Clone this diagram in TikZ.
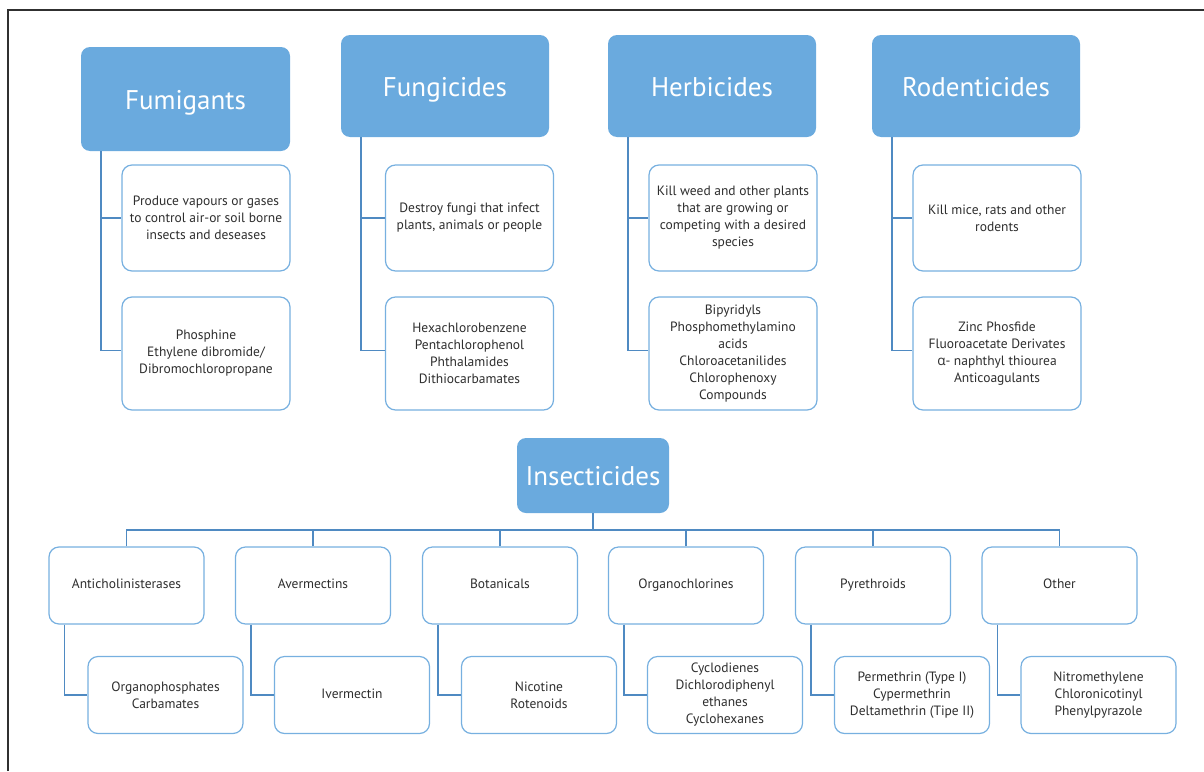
\documentclass[tikz,border=0pt]{standalone}
\usepackage{fontspec}
\usetikzlibrary{calc}
\setmainfont{PT Sans}
\newfontfamily\grk{Open Sans}
\definecolor{hdr}{HTML}{6AAADE}
\definecolor{bord}{HTML}{77B0E0}
\definecolor{conn}{HTML}{4F8AC2}
\definecolor{txt}{HTML}{2E2E2E}
\definecolor{frm}{HTML}{303030}
\begin{document}
\begin{tikzpicture}[x=1pt,y=-1pt,
  hbox/.style={draw=none,fill=hdr,rounded corners=9pt,text=white,
    font=\fontsize{27}{32}\selectfont,inner sep=0pt,align=center,
    text height=20pt,text depth=0pt},
  sbox/.style={draw=bord,line width=1.2pt,fill=white,rounded corners=10pt,
    text=txt,font=\fontsize{13.5}{17}\selectfont,inner sep=0pt,align=center,
    minimum width=168pt},
  ibox/.style={draw=bord,line width=1.2pt,fill=white,rounded corners=10pt,
    text=txt,font=\fontsize{13.5}{17}\selectfont,inner sep=0pt,align=center,
    minimum width=155pt,minimum height=77pt},
  cn/.style={draw=conn,line width=1.4pt}]
\useasboundingbox (0,0) rectangle (1204,771);
\draw[frm,line width=1.2pt] (8,771) -- (8,10) -- (1204,10);

% headers
\node[hbox,minimum width=209pt,minimum height=104pt] (fum) at (185.5,99) {Fumigants};
\node[hbox,minimum width=208pt,minimum height=102pt] (fun) at (445,86) {Fungicides};
\node[hbox,minimum width=208pt,minimum height=102pt] (her) at (712,86) {Herbicides};
\node[hbox,minimum width=208pt,minimum height=102pt] (rod) at (976,86) {Rodenticides};
\node[hbox,minimum width=152pt,minimum height=75pt] (ins) at (593,475.5) {Insecticides};

% sub boxes top
\node[sbox,minimum height=106pt] (fum1) at (206,218) {Produce vapours or gases\\to control air-or soil borne\\insects and deseases};
\node[sbox,minimum height=113pt] (fum2) at (206,353.5) {Phosphine\\Ethylene dibromide/\\Dibromochloropropane};
\node[sbox,minimum height=106pt] (fun1) at (469.5,218) {Destroy fungi that infect\\plants, animals or people};
\node[sbox,minimum height=113pt] (fun2) at (469.5,353.5) {Hexachlorobenzene\\Pentachlorophenol\\Phthalamides\\Dithiocarbamates};
\node[sbox,minimum height=106pt] (her1) at (733,218) {Kill weed and other plants\\that are growing or\\competing with a desired\\species};
\node[sbox,minimum height=113pt] (her2) at (733,353.5) {Bipyridyls\\Phosphomethylamino\\acids\\Chloroacetanilides\\Chlorophenoxy\\Compounds};
\node[sbox,minimum height=106pt] (rod1) at (997,218) {Kill mice, rats and other\\rodents};
\node[sbox,minimum height=113pt] (rod2) at (997,353.5) {Zinc Phosfide\\Fluoroacetate Derivates\\{\grk α}- naphthyl thiourea\\Anticoagulants};

\foreach \h in {fum,fun,her,rod}{
  \draw[cn] ($(\h.south west)+(20,0)$) |- (\h1.west);
  \draw[cn] ($(\h.south west)+(20,0)$) |- ($(\h2.west)+(0,-3)$);
}

% insecticides rows
\node[ibox] (a1) at (126.5,585.5) {\strut Anticholinisterases};
\node[ibox] (a2) at (313,585.5) {\strut Avermectins};
\node[ibox] (a3) at (500,585.5) {\strut Botanicals};
\node[ibox] (a4) at (686,585.5) {\strut Organochlorines};
\node[ibox] (a5) at (873,585.5) {\strut Pyrethroids};
\node[ibox] (a6) at (1059.5,585.5) {\strut Other};

\node[ibox] (b1) at (165.5,695) {Organophosphates\\Carbamates};
\node[ibox] (b2) at (352,695) {\strut Ivermectin};
\node[ibox] (b3) at (539,695) {Nicotine\\Rotenoids};
\node[ibox] (b4) at (725,695) {Cyclodienes\\Dichlorodiphenyl\\ethanes\\Cyclohexanes};
\node[ibox] (b5) at (912,695) {Permethrin (Type I)\\Cypermethrin\\Deltamethrin (Tipe II)};
\node[ibox] (b6) at (1098.5,695) {Nitromethylene\\Chloronicotinyl\\Phenylpyrazole};

\coordinate (bus) at (593,530);
\draw[cn] (ins.south) -- (bus);
\draw[cn] (a1.north) -- (a1.north |- bus) -- (a6.north |- bus) -- (a6.north);
\foreach \i in {2,3,4,5}{
  \draw[cn] (a\i.north) -- (a\i.north |- bus);
}
\foreach \i in {1,...,6}{
  \draw[cn] ($(a\i.south west)+(16,0)$) |- (b\i.west);
}
\end{tikzpicture}
\end{document}
